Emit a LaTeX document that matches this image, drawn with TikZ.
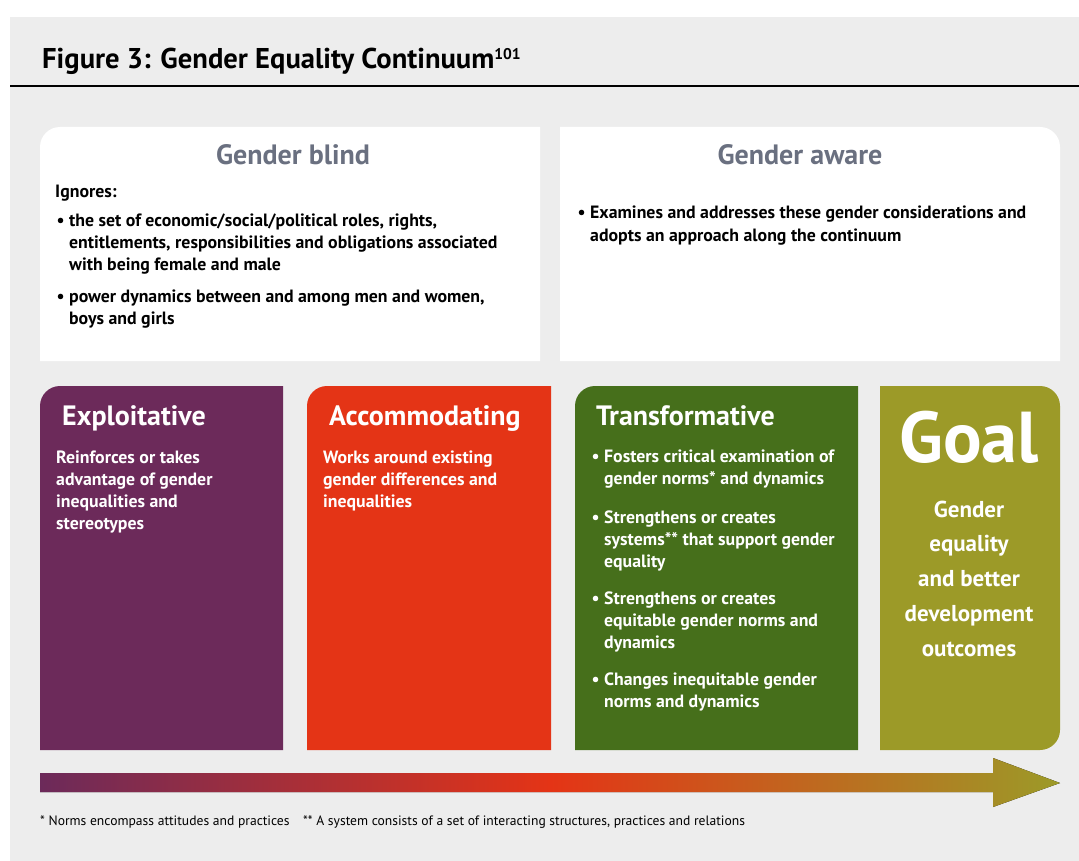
\documentclass[tikz,border=0pt]{standalone}
\usepackage{fontspec}
\setmainfont{PT Sans}
\usetikzlibrary{positioning}
\definecolor{panelgray}{HTML}{EDEDED}
\definecolor{headgray}{HTML}{6A7080}
\definecolor{exploit}{HTML}{6C2A5A}
\definecolor{accomm}{HTML}{E43416}
\definecolor{transf}{HTML}{466F1B}
\definecolor{goalc}{HTML}{9C9A28}
\tikzset{
    heading/.style = {font=\fontsize{28}{30}\selectfont\bfseries, inner sep=0pt, anchor=base},
    boxtitle/.style = {font=\fontsize{28}{30}\selectfont\bfseries, text=white, inner sep=0pt, anchor=base west},
    bodytext/.style = {font=\fontsize{17.8}{22}\selectfont\bfseries, align=left, inner sep=0pt, anchor=base west},
    whitetext/.style = {bodytext, text=white},
    goaltext/.style = {font=\fontsize{23}{34.7}\selectfont\bfseries, align=center, text=white, inner sep=0pt, anchor=base},
    note/.style = {font=\fontsize{13.6}{15}\selectfont, inner sep=0pt, anchor=base west}
}
\newcommand{\bul}{\llap{\textbullet\ }}
\begin{document}
\begin{tikzpicture}[x=1pt,y=-1pt]
\useasboundingbox (0,0) rectangle (1079,861);
%
\fill[panelgray] (10,17) rectangle (1079,861);
\draw[line width=1.2pt] (10,86) -- (1079,86);
\node[font=\fontsize{28.6}{30}\selectfont\bfseries, inner sep=0pt, anchor=base west] (title) at (42,69) {Figure 3: Gender Equality Continuum\raisebox{9pt}{\fontsize{15.5}{15}\selectfont 101}};
%
\fill[white] (40,361) [rounded corners=20pt] -- (40,127) [sharp corners] -- (540,127) -- (540,361) -- cycle;
\fill[white] (560,361) -- (560,127) [rounded corners=20pt] -- (1060,127) [sharp corners] -- (1060,361) -- cycle;
\fill[exploit] (40,750) [rounded corners=20pt] -- (40,386) [sharp corners] -- (283,386) -- (283,750) -- cycle;
\fill[accomm] (307,750) [rounded corners=20pt] -- (307,386) [sharp corners] -- (551,386) -- (551,750) -- cycle;
\fill[transf] (575,750) [rounded corners=20pt] -- (575,386) [sharp corners] -- (858,386) -- (858,750) -- cycle;
\fill[goalc] (880,750) -- (880,386) [rounded corners=20pt] -- (1060,386) -- (1060,750) [sharp corners] -- cycle;
%
% multi-line nodes sit on the baseline of their last line
\node[heading, text=headgray] (blind) at (293,165) {Gender blind};
\node[heading, text=headgray] (aware) at (800,165) {Gender aware};
\node[bodytext] (ignores) at (55,198) {Ignores:};
\node[bodytext] (roles) at (69,270) {\bul the set of economic/social/political roles, rights,\\entitlements, responsibilities and obligations associated\\with being female and male};
\node[bodytext] (power) at (69,324) {\bul power dynamics between and among men and women,\\boys and girls};
\node[bodytext] (examines) at (590,241) {\bul Examines and addresses these gender considerations and\\adopts an approach along the continuum};
%
\node[boxtitle] (exptitle) at (62,425) {Exploitative};
\node[boxtitle] (acctitle) at (329,425) {Accommodating};
\node[boxtitle] (tratitle) at (596,425) {Transformative};
\node[whitetext] (expbody) at (56,529) {Reinforces or takes\\advantage of gender\\inequalities and\\stereotypes};
\node[whitetext] (accbody) at (323,507) {Works around existing\\gender differences and\\inequalities};
\node[whitetext] (fosters) at (604,484) {\bul Fosters critical examination of\\gender norms* and dynamics};
\node[whitetext] (systems) at (604,567) {\bul Strengthens or creates\\systems** that support gender\\equality};
\node[whitetext] (norms) at (604,648) {\bul Strengthens or creates\\equitable gender norms and\\dynamics};
\node[whitetext] (changes) at (604,707) {\bul Changes inequitable gender\\norms and dynamics};
\node[font=\fontsize{72}{72}\selectfont\bfseries, text=white, inner sep=0pt, anchor=base] (goal) at (969,462) {Goal};
\node[goaltext] (outcomes) at (969,656) {Gender\\equality\\and better\\development\\outcomes};
%
\fill[left color=exploit, right color=goalc, middle color=accomm] (40,773) -- (993,773) -- (993,758) -- (1060,783) -- (993,807) -- (993,792) -- (40,792) -- cycle;
\node[note] (footnote) at (40,825) {* Norms encompass attitudes and practices\quad** A system consists of a set of interacting structures, practices and relations};
\end{tikzpicture}
\end{document}
